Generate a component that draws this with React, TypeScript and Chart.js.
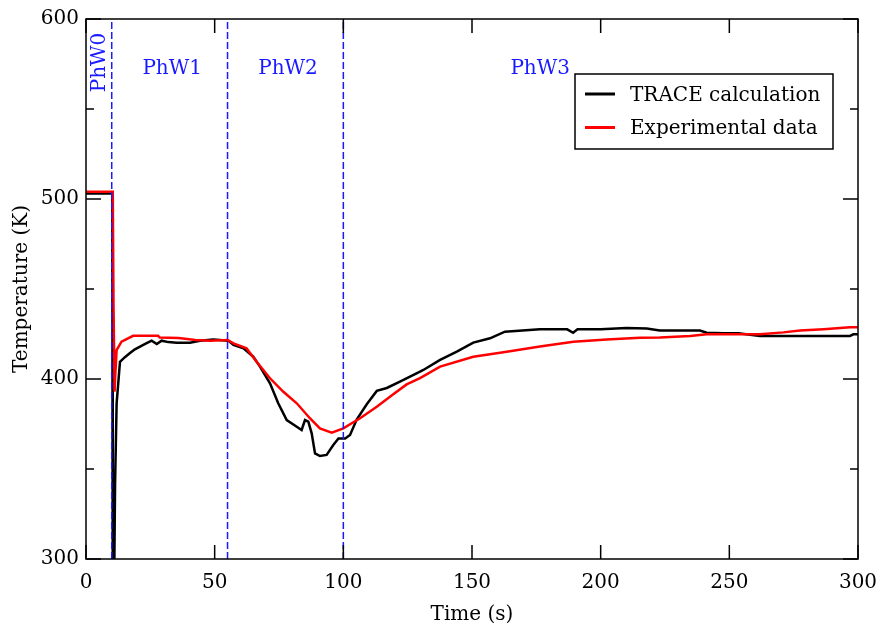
import React, { useEffect, useRef } from "react";
import { Chart, registerables } from "chart.js";

Chart.register(...registerables);

// ---- Data ----
const traceTime = [0, 10.2, 10.4, 10.9, 11.3, 11.9, 13.2, 15, 17.1, 19, 21, 23, 25.5, 27.5, 29.4, 32, 35.2, 40.4, 44.3, 49.4, 52, 55.3, 57.3, 61.2, 65, 67.6, 71.5, 74.7, 78, 81.9, 83.8, 85.1, 86.4, 87.7, 89, 90.9, 93.5, 96.1, 98.1, 100.7, 102.6, 105.2, 109.1, 113, 116.9, 122, 125.9, 129.8, 131.1, 137.6, 144.1, 150.5, 157, 162.8, 176.4, 187, 189.3, 191, 200, 210, 217.9, 223, 238.6, 241.2, 247.7, 253.5, 261.9, 296.9, 298.2, 300];
const traceTemp = [503, 503, 280, 280, 342, 386.5, 409.5, 412, 414.4, 416.5, 418, 419.5, 421.3, 419.4, 421.3, 420.5, 420.2, 420.2, 421.3, 422, 421.7, 421.3, 418.9, 417, 412.4, 406.9, 397.6, 386.5, 377.2, 373.5, 371.7, 377.2, 376.3, 369.8, 358.7, 357.2, 357.8, 363.3, 367, 367, 368.9, 377.5, 386, 393.4, 395, 398.5, 401.3, 404.1, 405, 410.6, 415.2, 420.2, 422.6, 426.3, 427.6, 427.6, 425.7, 427.6, 427.6, 428.3, 428.1, 426.9, 426.9, 425.7, 425.4, 425.4, 423.9, 423.9, 424.8, 424.8];

const expTime = [0, 10.4, 10.7, 11.1, 11.4, 11.9, 13.8, 18.3, 28, 28.7, 36, 42.5, 48.2, 55, 57.3, 62.4, 66.3, 71.5, 76.7, 81.9, 87, 90.9, 95.5, 100, 106.5, 113, 119.4, 124.6, 129.8, 137.6, 150.5, 163.5, 176.4, 189.4, 202.3, 215.3, 223, 234.8, 241.2, 252.8, 261.9, 271, 277.5, 286.6, 296.9, 300];
const expTemp = [504, 504, 440, 393, 403, 416, 420.7, 424, 424, 423, 422.8, 421.7, 421.3, 421.7, 419.8, 417, 409.6, 400.4, 392.9, 386.5, 378.2, 372.6, 370.2, 372.6, 378.2, 384.6, 391.5, 397, 400.5, 406.9, 412.4, 415.2, 418, 420.7, 422, 422.9, 423.1, 423.9, 424.8, 424.8, 424.8, 425.9, 426.9, 427.6, 428.7, 428.7];

const seriesNames = ["TRACE calculation", "Experimental data"];
const phaseBounds = [10, 55, 100];
const phaseLabels = ["PhW0", "PhW1", "PhW2", "PhW3"];
const phaseLabelTimes = [5, 33.5, 78.5, 176.5];
const phaseLabelTemp = 572.5;
const xTickValues = [0, 50, 100, 150, 200, 250, 300];
const yMajorTicks = [300, 400, 500, 600];
const yMinorTicks = [350, 450, 550];

const FONT = '"DejaVu Serif", serif';
const BLUE = "#1a1aff";

const decorPlugin = {
  id: "decor",
  afterDatasetsDraw(chart: any) {
    const { ctx, chartArea, scales } = chart;
    const { left, right, top, bottom } = chartArea;
    const xs = scales.x;
    const ys = scales.y;
    ctx.save();
    // frame
    ctx.strokeStyle = "#000";
    ctx.lineWidth = 1.5;
    ctx.strokeRect(left, top, right - left, bottom - top);
    // inward ticks on all four sides
    ctx.beginPath();
    for (const v of xTickValues) {
      const px = xs.getPixelForValue(v);
      ctx.moveTo(px, bottom);
      ctx.lineTo(px, bottom - 14);
      ctx.moveTo(px, top);
      ctx.lineTo(px, top + 14);
    }
    for (const v of yMajorTicks) {
      const py = ys.getPixelForValue(v);
      ctx.moveTo(left, py);
      ctx.lineTo(left + 15, py);
      ctx.moveTo(right, py);
      ctx.lineTo(right - 15, py);
    }
    for (const v of yMinorTicks) {
      const py = ys.getPixelForValue(v);
      ctx.moveTo(left, py);
      ctx.lineTo(left + 8, py);
      ctx.moveTo(right, py);
      ctx.lineTo(right - 8, py);
    }
    ctx.stroke();

    // phase labels
    ctx.fillStyle = BLUE;
    ctx.font = `20px ${FONT}`;
    ctx.textAlign = "center";
    ctx.textBaseline = "middle";
    phaseLabels.forEach((lab, i) => {
      const px = xs.getPixelForValue(phaseLabelTimes[i]);
      const py = ys.getPixelForValue(phaseLabelTemp);
      if (i === 0) {
        ctx.save();
        ctx.translate(px + 1, py - 6);
        ctx.rotate(-Math.PI / 2);
        ctx.fillText(lab, 0, 0);
        ctx.restore();
      } else {
        ctx.fillText(lab, px, py);
      }
    });

    // legend box
    const bx = 575, by = 74, bw = 258, bh = 75;
    ctx.fillStyle = "#fff";
    ctx.fillRect(bx, by, bw, bh);
    ctx.strokeStyle = "#000";
    ctx.lineWidth = 1.5;
    ctx.strokeRect(bx, by, bw, bh);
    const colors = ["#000", "#ff0000"];
    const rows = [94, 127.5];
    seriesNames.forEach((name, i) => {
      ctx.strokeStyle = colors[i];
      ctx.lineWidth = 3;
      ctx.beginPath();
      ctx.moveTo(585, rows[i]);
      ctx.lineTo(615, rows[i]);
      ctx.stroke();
      ctx.fillStyle = "#000";
      ctx.font = `20px ${FONT}`;
      ctx.textAlign = "left";
      ctx.textBaseline = "middle";
      ctx.fillText(name, 630, rows[i] + 1.5);
    });
    ctx.restore();
  },
};

export default function App() {
  const ref = useRef<HTMLCanvasElement | null>(null);
  useEffect(() => {
    document.body.style.margin = "0";
    const canvas = ref.current!;
    const trace = traceTime.map((t, i) => ({ x: t, y: traceTemp[i] }));
    const exp = expTime.map((t, i) => ({ x: t, y: expTemp[i] }));
    const phaseSets = phaseBounds.map((b) => ({
      label: "",
      data: [
        { x: b, y: 300 },
        { x: b, y: 600 },
      ],
      borderColor: BLUE,
      borderWidth: 1.5,
      borderDash: [7, 3],
      pointRadius: 0,
      order: -1,
    }));
    const chart = new Chart(canvas, {
      type: "line",
      data: {
        datasets: [
          {
            label: seriesNames[0],
            data: trace,
            borderColor: "#000",
            borderWidth: 2.5,
            pointRadius: 0,
            tension: 0,
            order: 2,
          },
          {
            label: seriesNames[1],
            data: exp,
            borderColor: "#ff0000",
            borderWidth: 2.5,
            pointRadius: 0,
            tension: 0,
            order: 1,
          },
          ...phaseSets,
        ],
      },
      options: {
        responsive: false,
        animation: false,
        layout: { padding: { left: 10, right: 24, top: 19, bottom: 7 } },
        plugins: { legend: { display: false }, tooltip: { enabled: false } },
        scales: {
          x: {
            type: "linear",
            min: 0,
            max: 300,
            ticks: { stepSize: 50, padding: 12, color: "#000", font: { family: FONT, size: 20 }, maxRotation: 0 },
            grid: { display: false, drawTicks: false },
            border: { display: false },
            title: { display: true, text: "Time (s)", color: "#000", font: { family: FONT, size: 20 }, padding: 0 },
            afterFit: (s: any) => {
              s.height = 68;
              s.paddingLeft = 0;
              s.paddingRight = 0;
            },
          },
          y: {
            type: "linear",
            min: 300,
            max: 600,
            ticks: { stepSize: 100, padding: 7, color: "#000", font: { family: FONT, size: 20 } },
            grid: { display: false, drawTicks: false },
            border: { display: false },
            title: { display: true, text: "Temperature (K)", color: "#000", font: { family: FONT, size: 20 }, padding: 0 },
            afterFit: (s: any) => {
              s.width = 76;
              s.paddingTop = 0;
              s.paddingBottom = 0;
            },
          },
        },
      },
      plugins: [decorPlugin],
    });
    return () => chart.destroy();
  }, []);
  return <canvas ref={ref} width={882} height={634} style={{ display: "block" }} />;
}
